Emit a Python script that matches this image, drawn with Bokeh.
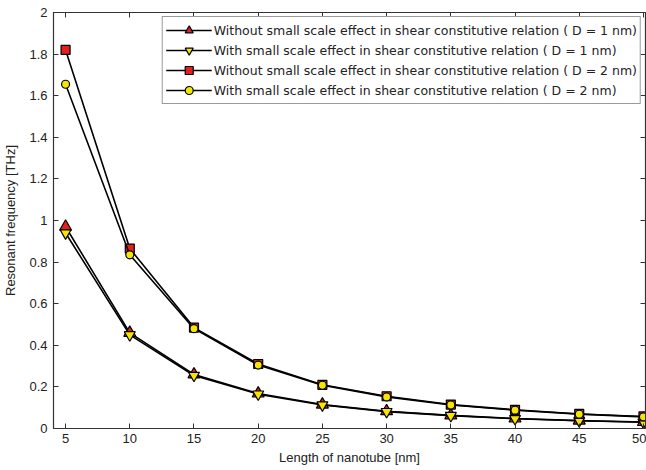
from bokeh.plotting import figure
from bokeh.models import Range1d, LinearAxis, Legend, LegendItem, FixedTicker
from bokeh.embed import file_html
from bokeh.resources import INLINE

length_nm = [5, 10, 15, 20, 25, 30, 35, 40, 45, 50]
d1_without = [0.97, 0.46, 0.26, 0.168, 0.115, 0.083, 0.063, 0.048, 0.038, 0.031]
d1_with = [0.94, 0.45, 0.255, 0.165, 0.113, 0.081, 0.062, 0.047, 0.037, 0.030]
d2_without = [1.82, 0.865, 0.485, 0.31, 0.21, 0.155, 0.115, 0.09, 0.07, 0.058]
d2_with = [1.655, 0.835, 0.48, 0.305, 0.208, 0.152, 0.113, 0.088, 0.069, 0.056]
labels = [
    "Without small scale effect in shear constitutive relation ( D = 1 nm)",
    "With small scale effect in shear constitutive relation ( D = 1 nm)",
    "Without small scale effect in shear constitutive relation ( D = 2 nm)",
    "With small scale effect in shear constitutive relation ( D = 2 nm)",
]
x_ticks = [5, 10, 15, 20, 25, 30, 35, 40, 45, 50]
y_ticks = [0, 0.2, 0.4, 0.6, 0.8, 1.0, 1.2, 1.4, 1.6, 1.8, 2.0]

FONT = "Liberation Sans"
RED = "#e3201c"
YEL = "#f4e600"

p = figure(width=646, height=470, output_backend="svg", toolbar_location=None,
           x_range=Range1d(4.06, 50.16), y_range=Range1d(0, 2),
           min_border_left=53, min_border_right=1, min_border_top=12, min_border_bottom=42)
p.grid.visible = False
p.outline_line_color = "#333333"
p.outline_line_width = 1.2

p.xaxis.ticker = FixedTicker(ticks=x_ticks)
p.yaxis.ticker = FixedTicker(ticks=y_ticks)
p.yaxis.major_label_overrides = {0: "0", 1.0: "1", 2.0: "2"}
for ax in [p.xaxis[0], p.yaxis[0]]:
    ax.major_tick_in = 5
    ax.major_tick_out = 0
    ax.minor_tick_in = 0
    ax.minor_tick_out = 0
    ax.axis_line_color = "#333333"
    ax.major_tick_line_color = "#333333"
    ax.major_label_text_font = FONT
    ax.major_label_text_font_size = "13px"
    ax.major_label_text_color = "#222222"
    ax.axis_label_text_font = FONT
    ax.axis_label_text_font_size = "13px"
    ax.axis_label_text_font_style = "normal"
    ax.axis_label_text_color = "#222222"
p.xaxis.axis_label = "Length of nanotube [nm]"
p.yaxis.axis_label = "Resonant frequency [THz]"
p.xaxis.axis_label_standoff = 4
p.yaxis.axis_label_standoff = 8
p.xaxis.major_label_standoff = 5
p.yaxis.major_label_standoff = 6

r1l = p.line(length_nm, d1_without, line_color="black", line_width=1.6)
r1m = p.scatter(length_nm, d1_without, marker="triangle", size=12, fill_color=RED, line_color="black", line_width=1.2)
r2l = p.line(length_nm, d1_with, line_color="black", line_width=1.6)
r2m = p.scatter(length_nm, d1_with, marker="inverted_triangle", size=11, fill_color=YEL, line_color="black", line_width=1.2)
r3l = p.line(length_nm, d2_without, line_color="black", line_width=1.6)
r3m = p.scatter(length_nm, d2_without, marker="square", size=9, fill_color=RED, line_color="black", line_width=1.2)
r4l = p.line(length_nm, d2_with, line_color="black", line_width=1.6)
r4m = p.scatter(length_nm, d2_with, marker="circle", size=8, fill_color=YEL, line_color="black", line_width=1.2)

legend = Legend(items=[
    LegendItem(label=labels[0], renderers=[r1l, r1m]),
    LegendItem(label=labels[1], renderers=[r2l, r2m]),
    LegendItem(label=labels[2], renderers=[r3l, r3m]),
    LegendItem(label=labels[3], renderers=[r4l, r4m]),
], location="top_right")
legend.border_line_color = "#333333"
legend.border_line_width = 1.2
legend.label_text_font = "DejaVu Sans"
legend.label_text_font_size = "12.5px"
legend.label_text_color = "#222222"
legend.glyph_width = 46
legend.glyph_height = 20
legend.label_height = 20
legend.spacing = 0
legend.padding = 3
legend.label_standoff = 2
legend.margin = 4
legend.background_fill_alpha = 1
p.add_layout(legend)

top_ax = LinearAxis(ticker=FixedTicker(ticks=x_ticks), major_label_text_color=None,
                    major_tick_in=5, major_tick_out=0, minor_tick_in=0, minor_tick_out=0,
                    axis_line_color="#333333", major_tick_line_color="#333333", major_label_standoff=0)
right_ax = LinearAxis(ticker=FixedTicker(ticks=y_ticks), major_label_text_color=None,
                      major_tick_in=5, major_tick_out=0, minor_tick_in=0, minor_tick_out=0,
                      axis_line_color="#333333", major_tick_line_color="#333333", major_label_standoff=0)
p.add_layout(top_ax, "above")
p.add_layout(right_ax, "right")

open("out.html", "w").write(file_html(p, INLINE))
